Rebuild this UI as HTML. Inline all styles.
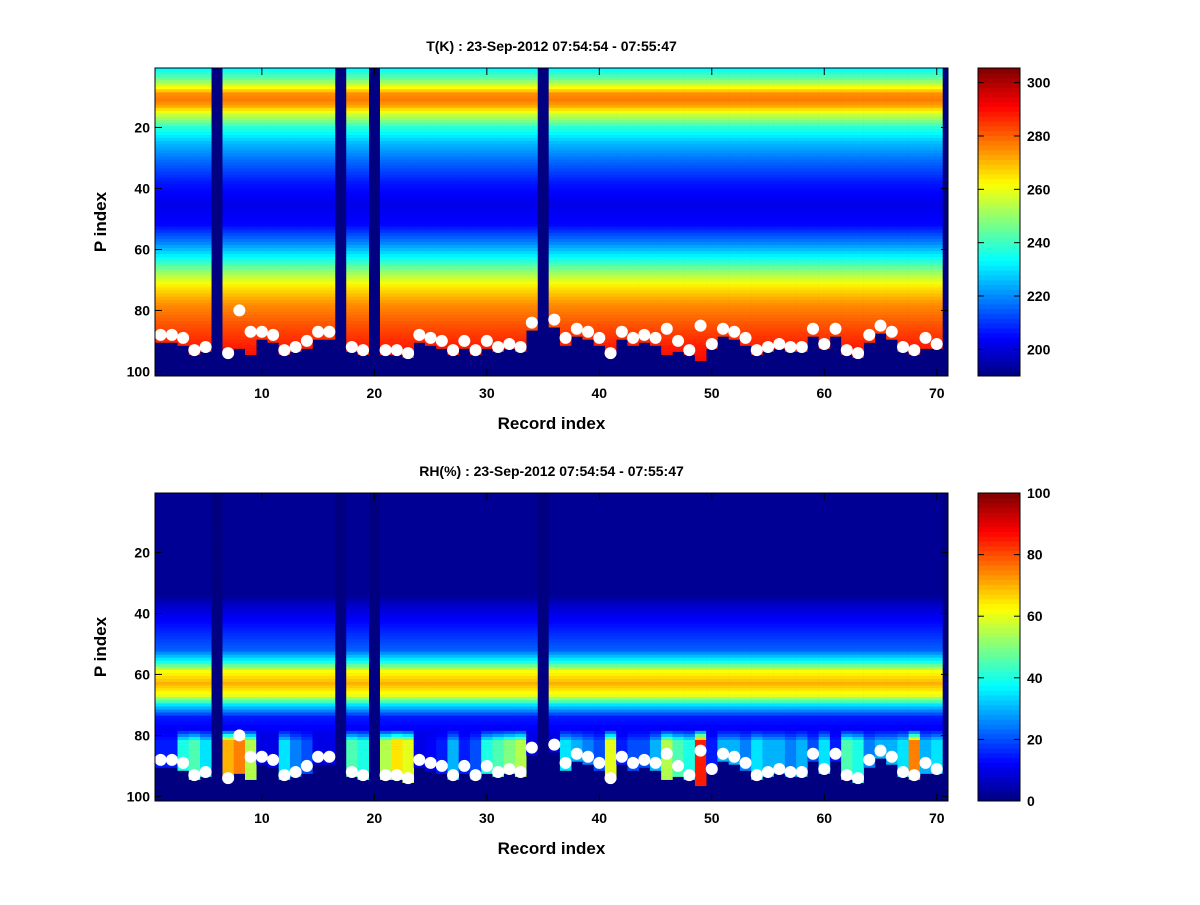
<!DOCTYPE html>
<html><head><meta charset="utf-8">
<style>
html,body{margin:0;padding:0;background:#fff;}
svg text{font-family:"Liberation Sans",sans-serif;font-weight:bold;}
</style></head>
<body>
<svg id="fig" width="1200" height="900" xmlns="http://www.w3.org/2000/svg"></svg>
<script>
// ---- data ----
const records = Array.from({length:70},(_,i)=>i+1);
const missingRecords = [6,17,20,35];
// surface P index (white dots) per record (NaN for missing)
const surfaceP = [88,88,89,93,92,NaN,94,80,87,87,88,93,92,90,87,87,NaN,92,93,NaN,93,93,94,88,89,90,93,90,93,90,92,91,92,84,NaN,83,89,86,87,89,94,87,89,88,89,86,90,93,85,91,86,87,89,93,92,91,92,92,86,91,86,93,94,88,85,87,92,93,89,91];
// data bottom (last valid P) per record
const dataBottom = [90,90,91,94,93,NaN,94,92,94,89,90,94,93,92,89,89,NaN,93,94,NaN,94,94,95,90,91,92,94,92,94,92,93,92,93,86,NaN,85,91,88,89,91,94,89,91,90,91,94,93,94,96,92,88,89,91,94,93,92,93,93,88,92,88,94,95,90,87,89,93,94,92,92];
// temperature profile (P, K)
const tProfP = [1,4,7,9,11,13,15,20,25,30,38,45,52,58,63,68,72,78,85,92,100];
const tProfV = [234,245,262,275,277,272,260,238,226,218,207,202,205,220,235,252,264,275,282,288,292];
// RH profile (P, %)
const rhProfP = [1,34,38,45,52,56,59,63,67,70,74,80,100];
const rhProfV = [2,2,8,15,22,40,62,70,60,35,15,10,10];
// RH near surface per record
const rhLow = [15,15,40,45,35,NaN,70,75,55,10,10,35,25,20,10,10,NaN,45,40,NaN,55,65,60,10,12,15,30,15,20,40,45,50,55,10,NaN,10,35,30,25,20,60,15,20,20,30,55,45,40,85,15,30,30,25,35,30,30,25,30,20,35,15,45,40,25,30,30,35,75,30,35];
const tTicks = [200,220,240,260,280,300];
const rhTicks = [0,20,40,60,80,100];
const xTicks = [10,20,30,40,50,60,70];
const yTicks = [20,40,60,80,100];

// ---- helpers ----
const NS="http://www.w3.org/2000/svg";
const svg=document.getElementById('fig');
function mk(tag,attrs,parent){const e=document.createElementNS(NS,tag);for(const k in attrs)e.setAttribute(k,attrs[k]);(parent||svg).appendChild(e);return e;}
function interp(px,pv,p){if(p<=px[0])return pv[0];for(let i=1;i<px.length;i++){if(p<=px[i]){const t=(p-px[i-1])/(px[i]-px[i-1]);return pv[i-1]+t*(pv[i]-pv[i-1]);}}return pv[pv.length-1];}
function jet(t){t=Math.max(0,Math.min(1,t));const c=v=>Math.round(255*Math.max(0,Math.min(1,v)));
 return `rgb(${c(1.5-Math.abs(4*t-3))},${c(1.5-Math.abs(4*t-2))},${c(1.5-Math.abs(4*t-1))})`;}
const X0=155,X1=948,XMIN=0.5,XMAX=71;
const xs=r=>X0+(r-XMIN)/(XMAX-XMIN)*(X1-X0);
const cellW=(X1-X0)/(XMAX-XMIN);

function panel(top,title,valFn,vmin,vmax,cbTicks,name){
 const Y0=top,Y1=top+308,YMIN=0.5,YMAX=101.5;
 const ys=p=>Y0+(p-YMIN)/(YMAX-YMIN)*(Y1-Y0);
 const g=mk('g',{});
 
 
 const bg=mk('rect',{x:X0,y:Y0,width:X1-X0,height:Y1-Y0,fill:jet(0)},g);
 
 
 records.forEach((r,ri)=>{
  if(missingRecords.includes(r))return;
  for(let p=1;p<=101;p++){
   const v=valFn(ri,p);
   if(v===null)continue;
   const cell=mk('rect',{x:xs(r-0.5),y:ys(p-0.5),width:cellW+0.3,height:(Y1-Y0)/101+0.3,fill:jet((v-vmin)/(vmax-vmin))},g);
   
   
  }
 });
 records.forEach((r,ri)=>{
  if(isNaN(surfaceP[ri]))return;
  const d=mk('circle',{cx:xs(r),cy:ys(surfaceP[ri]),r:6,fill:'#fff'},g);
  
  
 });
 const fr=mk('rect',{x:X0,y:Y0,width:X1-X0,height:Y1-Y0,fill:'none',stroke:'#000','stroke-width':1},g);
 
 
 xTicks.forEach(t=>{
  mk('line',{x1:xs(t),x2:xs(t),y1:Y1,y2:Y1-7,stroke:'#000'},g);
  mk('line',{x1:xs(t),x2:xs(t),y1:Y0,y2:Y0+7,stroke:'#000'},g);
  const l=mk('text',{x:xs(t),y:Y1+22,'text-anchor':'middle','font-size':14},g);l.textContent=t;
  
  
 });
 yTicks.forEach(t=>{
  mk('line',{x1:X0,x2:X0+7,y1:ys(t),y2:ys(t),stroke:'#000'},g);
  mk('line',{x1:X1,x2:X1-7,y1:ys(t),y2:ys(t),stroke:'#000'},g);
  const l=mk('text',{x:X0-5,y:ys(t)+5,'text-anchor':'end','font-size':14},g);l.textContent=t;
  
  
 });
 const tt=mk('text',{x:(X0+X1)/2,y:Y0-17,'text-anchor':'middle','font-size':14},g);tt.textContent=title;
 
 
 const xl=mk('text',{x:(X0+X1)/2,y:Y1+53,'text-anchor':'middle','font-size':17},g);xl.textContent='Record index';
 
 
 const yl=mk('text',{x:0,y:0,'text-anchor':'middle','font-size':17,transform:`translate(106,${(Y0+Y1)/2}) rotate(-90)`},g);yl.textContent='P index';
 
 
 // colorbar
 const CX0=978,CX1=1020,N=64;
 const cb=mk('g',{},g);
 
 
 for(let i=0;i<N;i++){
  mk('rect',{x:CX0,y:Y1-(i+1)*(Y1-Y0)/N,width:CX1-CX0,height:(Y1-Y0)/N+0.5,fill:jet((i+0.5)/N)},cb);
 }
 mk('rect',{x:CX0,y:Y0,width:CX1-CX0,height:Y1-Y0,fill:'none',stroke:'#000'},cb);
 const cs=v=>Y1-(v-vmin)/(vmax-vmin)*(Y1-Y0);
 cbTicks.forEach(t=>{
  mk('line',{x1:CX1,x2:CX1-6,y1:cs(t),y2:cs(t),stroke:'#000'},cb);
  mk('line',{x1:CX0,x2:CX0+6,y1:cs(t),y2:cs(t),stroke:'#000'},cb);
  const l=mk('text',{x:CX1+7,y:cs(t)+5,'font-size':14},cb);l.textContent=t;
  
  
 });
}

panel(68,'T(K) : 23-Sep-2012 07:54:54 - 07:55:47',(ri,p)=>{
 if(p>dataBottom[ri])return null;
 return interp(tProfP,tProfV,p);
},190,305.5,tTicks,'temperature');

panel(493,'RH(%) : 23-Sep-2012 07:54:54 - 07:55:47',(ri,p)=>{
 if(p>dataBottom[ri])return null;
 let v=interp(rhProfP,rhProfV,p);
 if(p>=82) v=rhLow[ri];
 else if(p>=78) v=v+(rhLow[ri]-v)*(p-78)/4;
 return v;
},0,100,rhTicks,'rh');
</script>
</body></html>
